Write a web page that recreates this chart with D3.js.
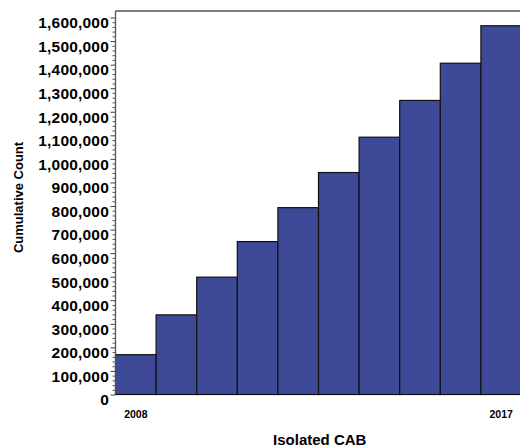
<!DOCTYPE html>
<html>
<head>
<meta charset="utf-8">
<script src="https://cdn.jsdelivr.net/npm/d3@7"></script>
<style>
  html, body { margin: 0; padding: 0; background: #fff; overflow: hidden; }
  svg { display: block; font-family: "Liberation Sans", Arial, Helvetica, sans-serif; }
</style>
</head>
<body>
<svg id="chart" width="520" height="447"></svg>
<script>
const years = ["2008","2009","2010","2011","2012","2013","2014","2015","2016","2017"];
const cumulativeCounts = [169000, 338000, 498000, 649000, 793000, 942000, 1092000, 1248000, 1406000, 1565000];
const yTickValues = [0,100000,200000,300000,400000,500000,600000,700000,800000,900000,1000000,1100000,1200000,1300000,1400000,1500000,1600000];
const xTickLabels = ["2008","2017"];
const xTitle = "Isolated CAB";
const yTitle = "Cumulative Count";

(function () {
const svg = d3.select("#chart");
const pLeft = 115.5, pRight = 521.5, pTop = 11, pBottom = 394.5;

const x = d3.scaleBand().domain(years).range([pLeft, pRight]).paddingInner(0).paddingOuter(0);
const y = d3.scaleLinear().domain([0, 1600000]).range([pBottom, 17.5]);

// bars
svg.append("g").selectAll("rect")
  .data(years.map((yr, i) => ({yr, v: cumulativeCounts[i]})))
  .join("rect")
  .attr("x", d => x(d.yr))
  .attr("y", d => y(d.v))
  .attr("width", x.bandwidth())
  .attr("height", d => y(0) - y(d.v))
  .attr("fill", "#3e4a97")
  .attr("stroke", "#111")
  .attr("stroke-width", 1.2);

// frame top
svg.append("line")
  .attr("x1", pLeft).attr("x2", 520).attr("y1", pTop).attr("y2", pTop)
  .attr("stroke", "#555").attr("stroke-width", 1.3);

// minor ticks
const minorVals = d3.range(0, 1600001, 20000).filter(v => v % 100000 !== 0);
const minorAxis = d3.axisLeft(y).tickValues(minorVals).tickSize(3).tickFormat("");
const gm = svg.append("g").attr("transform", `translate(${pLeft},0)`).call(minorAxis);
gm.select(".domain").remove();
gm.selectAll(".tick line").attr("stroke", "#555");

// major axis
const yAxis = d3.axisLeft(y).tickValues(yTickValues).tickSize(5).tickPadding(1.5)
  .tickFormat(d3.format(","));
const gy = svg.append("g").attr("transform", `translate(${pLeft},0)`).call(yAxis);
gy.select(".domain").attr("d", `M0,${pTop}V${pBottom}`).attr("stroke", "#555").attr("stroke-width", 1.3);
gy.selectAll(".tick line").attr("stroke", "#444");
gy.selectAll(".tick text")
  .attr("font-size", 15.5).attr("font-weight", "bold").attr("fill", "#000")
  .attr("font-family", "Liberation Sans, Arial, sans-serif")
  .attr("letter-spacing", 0.2)
  .attr("dy", "0.9em").attr("y", -3.6);

// x tick labels
const xAxis = d3.axisBottom(x).tickValues(xTickLabels).tickSize(0).tickPadding(16);
const gx = svg.append("g").attr("transform", `translate(0,${pBottom})`).call(xAxis);
gx.select(".domain").remove();
gx.selectAll(".tick text")
  .attr("font-size", 10.5).attr("font-weight", "bold").attr("fill", "#000")
  .attr("font-family", "Liberation Sans, Arial, sans-serif");

// titles
svg.append("text")
  .attr("x", (pLeft + 520) / 2 + 2).attr("y", 445)
  .attr("text-anchor", "middle").attr("font-size", 15).attr("font-weight", "bold")
  .text(xTitle);

svg.append("text")
  .attr("transform", "translate(23,197.5) rotate(-90)")
  .attr("text-anchor", "middle").attr("font-size", 13).attr("font-weight", "bold")
  .text(yTitle);
})();
</script>
</body>
</html>
